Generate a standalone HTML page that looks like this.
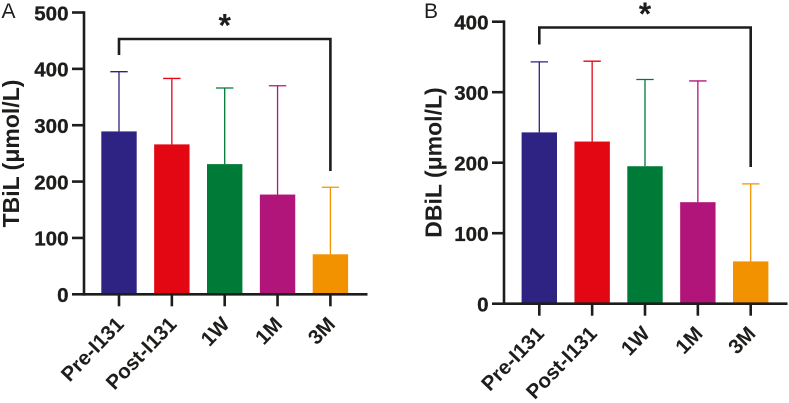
<!DOCTYPE html>
<html lang="en">
<head>
<meta charset="utf-8">
<title>TBiL and DBiL bar charts</title>
<style>
html,body{margin:0;padding:0;background:#fff;}
svg{display:block;font-family:"Liberation Sans",sans-serif;}
</style>
</head>
<body>
<svg id="chart" width="789" height="403" viewBox="0 0 789 403" xmlns="http://www.w3.org/2000/svg"></svg>
<script>
const categories = ['Pre-I131', 'Post-I131', '1W', '1M', '3M'];
const colors = ['#2e2382', '#e30613', '#007a37', '#b2157a', '#f39200'];
const tbilMeans = [289, 266, 231, 177, 71];
const tbilUpper = [395, 383, 366, 370, 190];
const tbilTicks = [0, 100, 200, 300, 400, 500];
const dbilMeans = [243, 230, 195, 144, 60];
const dbilUpper = [343, 344, 318, 316, 170];
const dbilTicks = [0, 100, 200, 300, 400];

const ink = '#1d1d1b';
const svg = document.getElementById('chart');
function add(parent, tag, attrs, text) {
  const el = document.createElementNS('http://www.w3.org/2000/svg', tag);
  for (const k in attrs) el.setAttribute(k, attrs[k]);
  if (text !== undefined) el.textContent = text;
  parent.appendChild(el);
  return el;
}
function drawPanel(p) {
  const g = add(svg, 'g', {});
  
  
  const maxTick = p.ticks[p.ticks.length - 1];
  const y = v => p.y0 + (p.yTop - p.y0) * v / maxTick;
  const x = i => p.x0 + p.step * i;
  const line = (x1, y1, x2, y2, stroke, w, parent) =>
    add(parent, 'line', {x1, y1, x2, y2, stroke, 'stroke-width': w});

  const letter = add(g, 'text', {x: p.letterX, y: 18, 'font-size': 21, fill: ink}, p.letter);
  
  

  p.means.forEach((m, i) => {
    const eb = add(g, 'g', {});
    
    
    line(x(i), y(m), x(i), y(p.upper[i]), colors[i], 1.3, eb);
    line(x(i) - 8.7, y(p.upper[i]), x(i) + 8.7, y(p.upper[i]), colors[i], 1.3, eb);
    const bar = add(g, 'rect', {x: x(i) - 17.7, y: y(m), width: 35.4, height: p.y0 - y(m), fill: colors[i]});
    
    
  });

  const yAxis = add(g, 'g', {});
  
  
  line(p.axisX, y(maxTick) - 1.3, p.axisX, p.y0 + 1.3, ink, 2.6, yAxis);
  p.ticks.forEach(t => {
    line(p.axisX - 12, y(t), p.axisX, y(t), ink, 2.6, yAxis);
    const lab = add(yAxis, 'text', {x: p.axisX - 15.5, y: y(t) + 7.8, 'font-size': 20.5, 'font-weight': 700, 'text-anchor': 'end', fill: ink, stroke: ink, 'stroke-width': 0.3}, String(t));
    
    
  });

  const xAxis = add(g, 'g', {});
  
  
  line(p.axisX, p.y0, p.axisX + 283.5, p.y0, ink, 2.6, xAxis);
  categories.forEach((c, i) => {
    line(x(i), p.y0, x(i), p.y0 + 12, ink, 2.6, xAxis);
    const ax = x(i) + 6, ay = p.y0 + 31;
    const lab = add(xAxis, 'text', {x: ax, y: ay, 'font-size': 20.5, 'font-weight': 700, 'text-anchor': 'end', fill: ink, transform: 'rotate(-46 ' + ax + ' ' + ay + ')'}, c);
    
    
  });

  const title = add(g, 'text', {x: p.titleX, y: p.titleY, 'font-size': 23, 'font-weight': 700, 'text-anchor': 'middle', fill: ink, transform: 'rotate(-90 ' + p.titleX + ' ' + p.titleY + ')'}, p.title);
  
  

  const bracket = add(g, 'path', {d: 'M' + x(0) + ' ' + p.bracketLeft + 'V' + p.bracketY + 'H' + x(4) + 'V' + p.bracketRight, fill: 'none', stroke: ink, 'stroke-width': 2.6});
  
  
  const star = add(g, 'text', {x: x(2), y: p.bracketY - 2.5, 'font-size': 32, 'font-weight': 700, 'text-anchor': 'middle', fill: ink}, '*');
  
  
}
drawPanel({key: 'tbil', letter: 'A', letterX: 1.5, title: 'TBiL (μmol/L)', titleX: 19, titleY: 153.5,
  means: tbilMeans, upper: tbilUpper, ticks: tbilTicks,
  axisX: 84, y0: 294.3, yTop: 12.5, x0: 119, step: 52.85,
  bracketY: 39, bracketLeft: 55, bracketRight: 171});
drawPanel({key: 'dbil', letter: 'B', letterX: 424, title: 'DBiL (μmol/L)', titleX: 441.5, titleY: 162.5,
  means: dbilMeans, upper: dbilUpper, ticks: dbilTicks,
  axisX: 504, y0: 303.7, yTop: 21.7, x0: 539.3, step: 52.85,
  bracketY: 27.5, bracketLeft: 44.5, bracketRight: 167});
</script>
</body>
</html>
